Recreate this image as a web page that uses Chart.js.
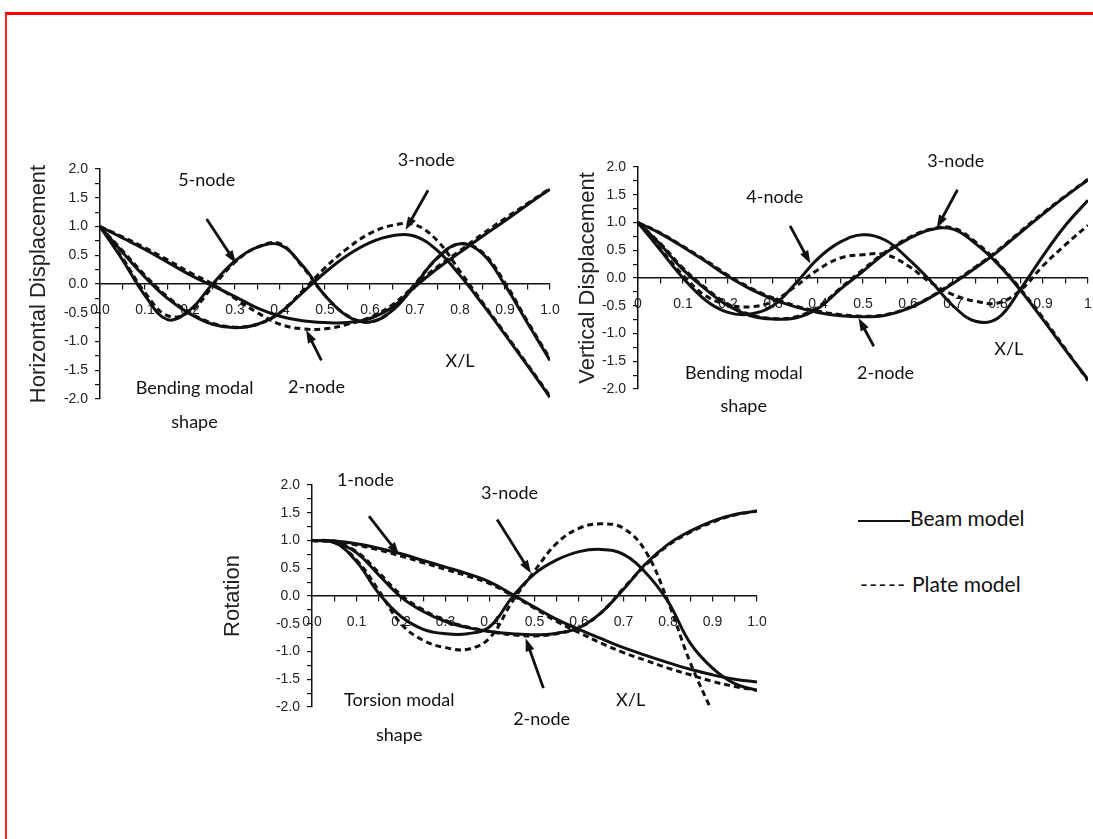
<!DOCTYPE html>
<html>
<head>
<meta charset="utf-8">
<script src="https://cdn.jsdelivr.net/npm/chart.js@4.4.1/dist/chart.umd.min.js"></script>
<style>
body{margin:0;width:1093px;height:839px;background:#fff;position:relative;overflow:hidden}
.frame{position:absolute;left:5px;top:12px;right:-5px;bottom:-5px;border-top:3px solid #f00;border-left:2px solid #f22}
canvas{position:absolute}
.key{position:absolute;font-family:Lato,sans-serif;font-size:21px;color:#111;white-space:nowrap}
</style>
</head>
<body>
<div class="frame"></div>
<canvas id="c1" width="545" height="300" style="left:20px;top:145px"></canvas>
<canvas id="c2" width="524" height="300" style="left:569px;top:145px"></canvas>
<canvas id="c3" width="560" height="290" style="left:214px;top:465px"></canvas>
<div class="key" style="left:858px;top:505px"><span style="display:inline-block;width:52px;border-top:2px solid #111;vertical-align:middle"></span>Beam model</div>
<div class="key" style="left:860px;top:571px"><span style="letter-spacing:1.5px">-----</span> Plate model</div>
<script>
// x/L positions shared by every curve
const xl = [0, 0.05, 0.1, 0.15, 0.2, 0.25, 0.3, 0.35, 0.4, 0.45, 0.5, 0.55, 0.6, 0.65, 0.7, 0.75, 0.8, 0.85, 0.9, 0.95, 1.0];

// horizontal displacement (bending)
const h2Beam  = [1.0, 0.8, 0.6, 0.38, 0.16, -0.03, -0.22, -0.42, -0.56, -0.64, -0.67, -0.67, -0.6, -0.4, -0.05, 0.27, 0.55, 0.83, 1.1, 1.38, 1.65];
const h2Plate = [1.0, 0.82, 0.63, 0.42, 0.2, 0.0, -0.25, -0.5, -0.7, -0.78, -0.78, -0.7, -0.58, -0.36, -0.02, 0.3, 0.58, 0.87, 1.14, 1.4, 1.66];
const h3Beam  = [1.0, 0.55, 0.12, -0.25, -0.52, -0.7, -0.76, -0.7, -0.5, -0.15, 0.2, 0.5, 0.72, 0.84, 0.83, 0.58, 0.15, -0.35, -0.88, -1.42, -1.97];
const h3Plate = [1.0, 0.58, 0.15, -0.22, -0.5, -0.68, -0.75, -0.7, -0.5, -0.12, 0.28, 0.62, 0.88, 1.02, 1.03, 0.75, 0.22, -0.32, -0.86, -1.4, -1.95];
const h5Beam  = [1.0, 0.42, -0.2, -0.62, -0.45, 0.0, 0.4, 0.64, 0.68, 0.32, -0.2, -0.56, -0.66, -0.46, -0.02, 0.46, 0.7, 0.53, -0.02, -0.68, -1.33];
const h5Plate = [1.0, 0.45, -0.15, -0.55, -0.48, -0.05, 0.38, 0.64, 0.7, 0.3, -0.2, -0.55, -0.66, -0.45, 0.0, 0.45, 0.7, 0.55, 0.02, -0.65, -1.3];

// vertical displacement (bending)
const v2Beam  = [1.0, 0.8, 0.56, 0.3, 0.03, -0.2, -0.38, -0.52, -0.62, -0.68, -0.7, -0.67, -0.55, -0.35, -0.1, 0.18, 0.48, 0.82, 1.15, 1.47, 1.77];
const v2Plate = [1.0, 0.81, 0.57, 0.32, 0.05, -0.18, -0.36, -0.5, -0.6, -0.66, -0.69, -0.66, -0.54, -0.34, -0.08, 0.2, 0.5, 0.84, 1.17, 1.48, 1.78];
const v3Beam  = [1.0, 0.6, 0.15, -0.2, -0.5, -0.68, -0.74, -0.72, -0.55, -0.2, 0.12, 0.45, 0.7, 0.87, 0.88, 0.62, 0.25, -0.22, -0.75, -1.3, -1.83];
const v3Plate = [1.0, 0.62, 0.18, -0.18, -0.47, -0.66, -0.73, -0.7, -0.52, -0.18, 0.15, 0.47, 0.72, 0.88, 0.9, 0.65, 0.27, -0.2, -0.72, -1.28, -1.85];
const v4Beam  = [1.0, 0.5, 0.0, -0.4, -0.62, -0.65, -0.5, -0.1, 0.35, 0.65, 0.78, 0.68, 0.35, -0.05, -0.5, -0.78, -0.72, -0.2, 0.4, 0.95, 1.4];
const v4Plate = [1.0, 0.52, 0.05, -0.32, -0.48, -0.52, -0.42, -0.15, 0.15, 0.36, 0.42, 0.42, 0.22, -0.08, -0.3, -0.42, -0.45, -0.22, 0.22, 0.6, 0.95];

// rotation (torsion)
const r1Beam  = [1.0, 0.99, 0.94, 0.86, 0.76, 0.64, 0.52, 0.4, 0.25, 0.03, -0.2, -0.42, -0.6, -0.77, -0.93, -1.07, -1.2, -1.32, -1.42, -1.5, -1.55];
const r1Plate = [1.0, 0.99, 0.92, 0.83, 0.72, 0.6, 0.48, 0.36, 0.22, 0.01, -0.22, -0.46, -0.66, -0.85, -1.02, -1.16, -1.3, -1.42, -1.54, -1.63, -1.7];
const r2Beam  = [1.0, 0.97, 0.78, 0.38, -0.02, -0.28, -0.46, -0.57, -0.64, -0.68, -0.7, -0.67, -0.57, -0.3, 0.12, 0.58, 0.93, 1.17, 1.35, 1.47, 1.53];
const r2Plate = [1.0, 0.97, 0.8, 0.42, 0.02, -0.25, -0.44, -0.56, -0.64, -0.7, -0.72, -0.68, -0.57, -0.3, 0.14, 0.56, 0.91, 1.15, 1.33, 1.46, 1.53];
const r3Beam  = [1.0, 0.97, 0.62, 0.05, -0.37, -0.6, -0.68, -0.68, -0.55, -0.02, 0.4, 0.65, 0.8, 0.84, 0.75, 0.42, -0.1, -0.85, -1.3, -1.58, -1.7];
const r3Plate = [1.0, 0.96, 0.65, 0.1, -0.5, -0.8, -0.93, -0.96, -0.75, -0.1, 0.45, 0.95, 1.22, 1.3, 1.22, 0.8, -0.1, -1.2, -2.1, null, null];

// tick labels
const xLabelsA = ['0.0', '0.1', '0.2', '0.3', '0.4', '0.5', '0.6', '0.7', '0.8', '0.9', '1.0'];
const xLabelsB = ['0', '0.1', '0.2', '0.3', '0.4', '0.5', '0.6', '0.7', '0.8', '0.9', '1'];
const yLabels = ['-2.0', '-1.5', '-1.0', '-0.5', '0.0', '0.5', '1.0', '1.5', '2.0'];

const tickFont = {family: '"Liberation Sans", Arial, sans-serif', size: 14};

function line(vals, dashed) {
  return {
    data: xl.map((x, i) => ({x: x, y: vals[i]})),
    borderColor: '#111',
    borderWidth: 3,
    borderDash: dashed ? [6, 4] : [],
    pointRadius: 0,
    tension: 0.4,
    fill: false
  };
}

// text labels and arrows, placed in data units
function notes(texts, arrows) {
  return {
    id: 'notes',
    afterDatasetsDraw(chart) {
      const {ctx} = chart;
      const sx = chart.scales.x, sy = chart.scales.y;
      ctx.save();
      ctx.fillStyle = '#111';
      ctx.strokeStyle = '#111';
      ctx.font = '18px Lato, sans-serif';
      ctx.textAlign = 'center';
      ctx.textBaseline = 'middle';
      texts.forEach(t => ctx.fillText(t[0], sx.getPixelForValue(t[1]), sy.getPixelForValue(t[2])));
      ctx.lineWidth = 2.8;
      arrows.forEach(a => {
        const x0 = sx.getPixelForValue(a[0]), y0 = sy.getPixelForValue(a[1]);
        const x1 = sx.getPixelForValue(a[2]), y1 = sy.getPixelForValue(a[3]);
        const ang = Math.atan2(y1 - y0, x1 - x0);
        const c = Math.cos(ang), s = Math.sin(ang);
        ctx.beginPath();
        ctx.moveTo(x0, y0);
        ctx.lineTo(x1 - 8 * c, y1 - 8 * s);
        ctx.stroke();
        ctx.beginPath();
        ctx.moveTo(x1, y1);
        ctx.lineTo(x1 - 13 * c + 4.5 * s, y1 - 13 * s - 4.5 * c);
        ctx.lineTo(x1 - 13 * c - 4.5 * s, y1 - 13 * s + 4.5 * c);
        ctx.closePath();
        ctx.fill();
      });
      ctx.restore();
    }
  };
}

function plot(id, title, xLabels, sets, yWidth, pad, texts, arrows) {
  return new Chart(document.getElementById(id), {
    type: 'line',
    data: {datasets: sets},
    options: {
      responsive: false,
      animation: false,
      events: [],
      layout: {padding: pad},
      plugins: {legend: {display: false}, tooltip: {enabled: false}},
      scales: {
        x: {
          type: 'linear', min: 0, max: 1,
          position: {y: 0},
          afterFit: s => { s.height = 0; s.paddingLeft = 0; s.paddingRight = 0; },
          border: {display: true, color: '#111', width: 1.5},
          grid: {display: true, drawOnChartArea: false, drawTicks: true, tickLength: 5, color: '#111', lineWidth: 1.2},
          ticks: {
            stepSize: 0.05, autoSkip: false, maxRotation: 0, padding: 13, color: '#222', font: tickFont,
            callback: v => Math.abs(v * 10 - Math.round(v * 10)) < 1e-6 ? xLabels[Math.round(v * 10)] : ''
          }
        },
        y: {
          min: -2, max: 2,
          afterFit: s => { s.width = yWidth; },
          border: {display: true, color: '#111', width: 1.5},
          grid: {display: true, drawOnChartArea: false, drawTicks: true, tickLength: 5, color: '#111', lineWidth: 1.2},
          ticks: {
            stepSize: 0.25, autoSkip: false, padding: 7, color: '#222', font: tickFont,
            callback: v => Math.abs(v * 2 - Math.round(v * 2)) < 1e-6 ? yLabels[Math.round((v + 2) * 2)] : ''
          },
          title: {
            display: true, text: title, color: '#222',
            font: {family: '"Liberation Sans", Arial, sans-serif', size: 22},
            padding: {top: 6, bottom: 0}
          }
        }
      }
    },
    plugins: [notes(texts, arrows)]
  });
}

plot('c1', 'Horizontal Displacement', xLabelsA,
  [line(h2Beam), line(h2Plate, true), line(h3Beam), line(h3Plate, true), line(h5Beam), line(h5Plate, true)],
  80, {left: 0, top: 24, right: 15, bottom: 46},
  [['5-node', 0.237, 1.81], ['3-node', 0.725, 2.15], ['2-node', 0.481, -1.79], ['X/L', 0.8, -1.35],
   ['Bending modal', 0.21, -1.82], ['shape', 0.21, -2.4]],
  [[0.237, 1.13, 0.302, 0.36], [0.729, 1.63, 0.679, 0.94], [0.492, -1.33, 0.458, -0.8]]);

plot('c2', 'Vertical Displacement', xLabelsB,
  [line(v2Beam), line(v2Plate, true), line(v3Beam), line(v3Plate, true), line(v4Beam), line(v4Plate, true)],
  69, {left: 0, top: 22, right: 5, bottom: 56},
  [['3-node', 0.706, 2.1], ['4-node', 0.304, 1.46], ['2-node', 0.55, -1.71], ['X/L', 0.824, -1.29],
   ['Bending modal', 0.235, -1.71], ['shape', 0.235, -2.31]],
  [[0.338, 0.94, 0.383, 0.26], [0.71, 1.59, 0.664, 0.9], [0.524, -1.23, 0.49, -0.72]]);

plot('c3', 'Rotation', xLabelsA,
  [line(r1Beam), line(r1Plate, true), line(r2Beam), line(r2Plate, true), line(r3Beam), line(r3Plate, true)],
  98, {left: 0, top: 20, right: 17, bottom: 48},
  [['1-node', 0.12, 2.08], ['3-node', 0.444, 1.85], ['2-node', 0.516, -2.22], ['X/L', 0.716, -1.87],
   ['Torsion modal', 0.196, -1.87], ['shape', 0.196, -2.5]],
  [[0.128, 1.44, 0.196, 0.74], [0.416, 1.38, 0.492, 0.41], [0.52, -1.66, 0.48, -0.76]]);
</script>
</body>
</html>
